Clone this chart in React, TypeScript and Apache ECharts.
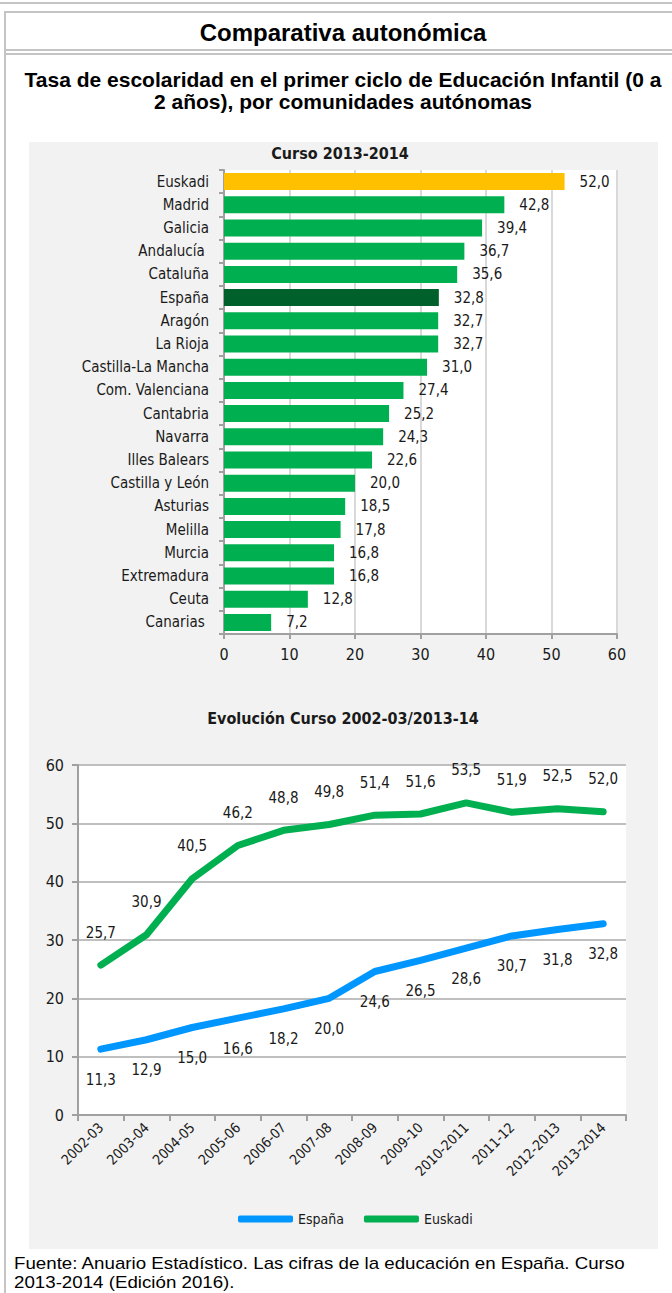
import React, { useEffect, useRef } from "react";
import * as echarts from "echarts";

const regions = [
  "Euskadi", "Madrid", "Galicia", "Andalucía ", "Cataluña", "España", "Aragón", "La Rioja",
  "Castilla-La Mancha", "Com. Valenciana", "Cantabria", "Navarra", "Illes Balears",
  "Castilla y León", "Asturias", "Melilla", "Murcia", "Extremadura", "Ceuta", "Canarias ",
];
const rates2013 = [52.0, 42.8, 39.4, 36.7, 35.6, 32.8, 32.7, 32.7, 31.0, 27.4, 25.2, 24.3, 22.6, 20.0, 18.5, 17.8, 16.8, 16.8, 12.8, 7.2];

const courses = ["2002-03", "2003-04", "2004-05", "2005-06", "2006-07", "2007-08", "2008-09", "2009-10", "2010-2011", "2011-12", "2012-2013", "2013-2014"];
const espana = [11.3, 12.9, 15.0, 16.6, 18.2, 20.0, 24.6, 26.5, 28.6, 30.7, 31.8, 32.8];
const euskadi = [25.7, 30.9, 40.5, 46.2, 48.8, 49.8, 51.4, 51.6, 53.5, 51.9, 52.5, 52.0];

const NARROW = "'DejaVu Sans Condensed', 'Liberation Sans Narrow', sans-serif";
const ARIAL = "'Liberation Sans', Arial, sans-serif";
const TXT = "#1a1a1a";

const fmt = (v: number) => v.toFixed(1).replace(".", ",");

export default function App() {
  const ref = useRef<HTMLDivElement>(null);
  useEffect(() => {
    if (!ref.current) return;
    const chart = echarts.init(ref.current, undefined, { renderer: "svg" });
    const barColor = (name: string) =>
      name === "Euskadi" ? "#FFC000" : name === "España" ? "#00602B" : "#00B050";
    chart.setOption({
      animation: false,
      backgroundColor: "#ffffff",
      graphic: [
        { type: "rect", shape: { x: 0, y: 2, width: 672, height: 2 }, style: { fill: "#c4c4c4" } },
        { type: "rect", shape: { x: 4, y: 11, width: 668, height: 2 }, style: { fill: "#c4c4c4" } },
        { type: "rect", shape: { x: 4, y: 11, width: 2, height: 1282 }, style: { fill: "#c4c4c4" } },
        { type: "rect", shape: { x: 4, y: 49, width: 668, height: 2 }, style: { fill: "#c4c4c4" } },
        { type: "rect", shape: { x: 4, y: 53, width: 668, height: 2 }, style: { fill: "#c4c4c4" } },
        {
          type: "text", x: 343, y: 32,
          style: { text: "Comparativa autonómica", font: `bold 24px ${ARIAL}`, fill: "#000", align: "center", verticalAlign: "middle" },
        },
        {
          type: "text", x: 343, y: 79,
          style: { text: "Tasa de escolaridad en el primer ciclo de Educación Infantil (0 a", font: `bold 21px ${ARIAL}`, fill: "#000", align: "center", verticalAlign: "middle" },
        },
        {
          type: "text", x: 343, y: 101,
          style: { text: "2 años), por comunidades autónomas", font: `bold 21px ${ARIAL}`, fill: "#000", align: "center", verticalAlign: "middle" },
        },
        { type: "rect", z: -10, shape: { x: 29, y: 142, width: 629, height: 1107 }, style: { fill: "#f2f2f2" } },
        {
          type: "text", x: 340, y: 153,
          style: { text: "Curso 2013-2014", font: `bold 16px ${NARROW}`, fill: TXT, align: "center", verticalAlign: "middle" },
        },
        {
          type: "text", x: 343, y: 718,
          style: { text: "Evolución Curso 2002-03/2013-14", font: `bold 16px ${NARROW}`, fill: TXT, align: "center", verticalAlign: "middle" },
        },
        {
          type: "text", x: 14, y: 1263, scaleX: 1.17,
          style: { text: "Fuente: Anuario Estadístico. Las cifras de la educación en España. Curso", font: `16px ${ARIAL}`, fill: "#000", align: "left", verticalAlign: "middle" },
        },
        {
          type: "text", x: 14, y: 1282, scaleX: 1.17,
          style: { text: "2013-2014 (Edición 2016).", font: `16px ${ARIAL}`, fill: "#000", align: "left", verticalAlign: "middle" },
        },
      ],
      legend: {
        data: ["España", "Euskadi"],
        left: 233,
        top: 1207,
        icon: "roundRect",
        itemWidth: 55,
        itemHeight: 7,
        itemGap: 20,
        textStyle: { fontFamily: NARROW, fontSize: 14, color: TXT },
      },
      grid: [
        { left: 224, top: 170, width: 393, height: 464, show: true, backgroundColor: "#ffffff", borderWidth: 0 },
        { left: 78, top: 765, width: 548, height: 350, show: true, backgroundColor: "#ffffff", borderWidth: 0 },
      ],
      xAxis: [
        {
          gridIndex: 0, type: "value", min: 0, max: 60, interval: 10,
          axisLine: { show: true, lineStyle: { color: "#a0a0a0", width: 2 } },
          axisTick: { show: true, length: 5, lineStyle: { color: "#a0a0a0", width: 2 } },
          splitLine: { show: true, lineStyle: { color: "#d9d9d9", width: 2 } },
          axisLabel: { fontFamily: NARROW, fontSize: 16, color: TXT, margin: 12 },
        },
        {
          gridIndex: 1, type: "category", data: courses, boundaryGap: true,
          axisLine: { show: true, lineStyle: { color: "#a0a0a0", width: 2 } },
          axisTick: { show: true, length: 6, alignWithLabel: false, lineStyle: { color: "#a0a0a0", width: 2 } },
          axisLabel: { fontFamily: NARROW, fontSize: 14, color: TXT, rotate: 45, interval: 0, margin: 10 },
        },
      ],
      yAxis: [
        {
          gridIndex: 0, type: "category", data: regions, inverse: true,
          axisLine: { show: true, lineStyle: { color: "#a0a0a0", width: 2 } },
          axisTick: { show: true, length: 5, lineStyle: { color: "#a0a0a0", width: 2 } },
          axisLabel: { fontFamily: NARROW, fontSize: 15, color: TXT, margin: 15 },
        },
        {
          gridIndex: 1, type: "value", min: 0, max: 60, interval: 10,
          axisLine: { show: true, lineStyle: { color: "#a0a0a0", width: 2 } },
          axisTick: { show: true, length: 6, lineStyle: { color: "#a0a0a0", width: 2 } },
          splitLine: { show: true, lineStyle: { color: "#bfbfbf", width: 2 } },
          axisLabel: { fontFamily: NARROW, fontSize: 16, color: TXT, margin: 14 },
        },
      ],
      series: [
        {
          type: "bar", xAxisIndex: 0, yAxisIndex: 0, barWidth: 17,
          data: regions.map((r, i) => ({ value: rates2013[i], itemStyle: { color: barColor(r) } })),
          label: {
            show: true, position: "right", distance: 15,
            fontFamily: NARROW, fontSize: 15, color: TXT,
            formatter: (p: any) => fmt(p.value),
          },
        },
        {
          name: "España", type: "line", xAxisIndex: 1, yAxisIndex: 1, data: espana,
          color: "#0096FF",
          symbol: "circle", symbolSize: 2,
          lineStyle: { width: 7, color: "#0096FF", cap: "round", join: "round" },
          label: {
            show: true, position: "bottom", distance: 22,
            fontFamily: NARROW, fontSize: 15, color: TXT,
            formatter: (p: any) => fmt(p.value),
          },
        },
        {
          name: "Euskadi", type: "line", xAxisIndex: 1, yAxisIndex: 1, data: euskadi,
          color: "#00B050",
          symbol: "circle", symbolSize: 2,
          lineStyle: { width: 7, color: "#00B050", cap: "round", join: "round" },
          label: {
            show: true, position: "top", distance: 24,
            fontFamily: NARROW, fontSize: 15, color: TXT,
            formatter: (p: any) => fmt(p.value),
          },
        },
      ],
    });
    return () => chart.dispose();
  }, []);
  return (
    <div
      ref={ref}
      style={{ position: "absolute", left: 0, top: 0, width: 672, height: 1293 }}
    />
  );
}
